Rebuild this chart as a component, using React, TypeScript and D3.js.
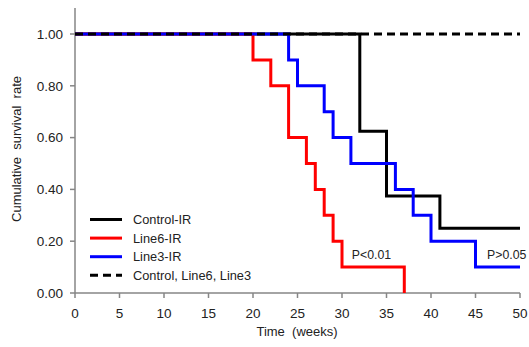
import React, { useRef, useEffect } from "react";
import * as d3 from "d3";

type Step = { t: number; s: number };

// survival steps: value holds from t until the next step
const controlIR: Step[] = [
  { t: 0, s: 1.0 }, { t: 32, s: 0.625 }, { t: 35, s: 0.375 }, { t: 41, s: 0.25 }, { t: 50, s: 0.25 },
];
const line6IR: Step[] = [
  { t: 0, s: 1.0 }, { t: 20, s: 0.9 }, { t: 22, s: 0.8 }, { t: 24, s: 0.6 }, { t: 26, s: 0.5 },
  { t: 27, s: 0.4 }, { t: 28, s: 0.3 }, { t: 29, s: 0.2 }, { t: 30, s: 0.1 }, { t: 37, s: 0.0 },
];
const line3IR: Step[] = [
  { t: 0, s: 1.0 }, { t: 24, s: 0.9 }, { t: 25, s: 0.8 }, { t: 28, s: 0.7 }, { t: 29, s: 0.6 },
  { t: 31, s: 0.5 }, { t: 36, s: 0.4 }, { t: 38, s: 0.3 }, { t: 40, s: 0.2 }, { t: 45, s: 0.1 },
  { t: 50, s: 0.1 },
];
const allNonIR: Step[] = [{ t: 0, s: 1.0 }, { t: 50, s: 1.0 }];

const xTicks = [0, 5, 10, 15, 20, 25, 30, 35, 40, 45, 50];
const yTicks = [0, 0.2, 0.4, 0.6, 0.8, 1.0];

const legendItems = [
  { label: "Control-IR", color: "#000000", dash: "" },
  { label: "Line6-IR", color: "#ff0000", dash: "" },
  { label: "Line3-IR", color: "#0000ff", dash: "" },
  { label: "Control, Line6, Line3", color: "#000000", dash: "8,5" },
];

const pLabels = [
  { text: "P<0.01", t: 31.1, s: 0.13 },
  { text: "P>0.05", t: 46.3, s: 0.13 },
];

export default function App() {
  const svgRef = useRef(null);

  useEffect(() => {
    const width = 529;
    const height = 347;
    const svg = d3.select(svgRef.current);
    svg.selectAll("*").remove();
    svg.attr("width", width).attr("height", height);

    const font = "Liberation Sans, Arial, sans-serif";
    const axisColor = "#868686";

    const x = d3.scaleLinear().domain([0, 50]).range([75, 520]);
    const y = d3.scaleLinear().domain([0, 1]).range([293, 34]);

    // axes
    svg.append("line").attr("x1", 75).attr("x2", 75).attr("y1", 8).attr("y2", 293)
      .attr("stroke", axisColor).attr("stroke-width", 1.5);
    svg.append("line").attr("x1", 75).attr("x2", 520).attr("y1", 293).attr("y2", 293)
      .attr("stroke", axisColor).attr("stroke-width", 1.5);

    svg.selectAll(".ytick").data(yTicks).join("line")
      .attr("x1", 70).attr("x2", 75)
      .attr("y1", (d) => y(d)).attr("y2", (d) => y(d))
      .attr("stroke", axisColor).attr("stroke-width", 1.5);
    svg.selectAll(".ylab").data(yTicks).join("text")
      .attr("x", 63).attr("y", (d) => y(d)).attr("dy", "0.35em")
      .attr("text-anchor", "end").attr("font-family", font).attr("font-size", 13.5)
      .attr("fill", "#222").text((d) => d.toFixed(2));

    svg.selectAll(".xtick").data(xTicks).join("line")
      .attr("x1", (d) => x(d)).attr("x2", (d) => x(d))
      .attr("y1", 293).attr("y2", 298)
      .attr("stroke", axisColor).attr("stroke-width", 1.5);
    svg.selectAll(".xlab").data(xTicks).join("text")
      .attr("x", (d) => x(d)).attr("y", 318)
      .attr("text-anchor", "middle").attr("font-family", font).attr("font-size", 13.5)
      .attr("fill", "#222").text((d) => d);

    svg.append("text")
      .attr("transform", `translate(21,149) rotate(-90)`)
      .attr("text-anchor", "middle").attr("font-family", font).attr("font-size", 13)
      .attr("fill", "#222").attr("xml:space", "preserve")
      .text("Cumulative  survival  rate");
    svg.append("text")
      .attr("x", 297).attr("y", 336)
      .attr("text-anchor", "middle").attr("font-family", font).attr("font-size", 13)
      .attr("fill", "#222").attr("xml:space", "preserve")
      .text("Time  (weeks)");

    const line = d3.line<Step>().x((d) => x(d.t)).y((d) => y(d.s)).curve(d3.curveStepAfter);

    const series = [
      { data: controlIR, color: "#000000", dash: "" },
      { data: line6IR, color: "#ff0000", dash: "" },
      { data: line3IR, color: "#0000ff", dash: "" },
      { data: allNonIR, color: "#000000", dash: "8,5" },
    ];
    series.forEach((sr) => {
      svg.append("path").attr("d", line(sr.data))
        .attr("fill", "none").attr("stroke", sr.color).attr("stroke-width", 3)
        .attr("stroke-dasharray", sr.dash || null);
    });

    // legend
    const lg = svg.selectAll(".lg").data(legendItems).join("g")
      .attr("transform", (d, i) => `translate(90,${219.5 + i * 18.6})`);
    lg.append("line").attr("x1", 0).attr("x2", 32).attr("y1", 0).attr("y2", 0)
      .attr("stroke", (d) => d.color).attr("stroke-width", 3)
      .attr("stroke-dasharray", (d) => d.dash || null);
    lg.append("text").attr("x", 43).attr("y", 0).attr("dy", "0.35em")
      .attr("font-family", font).attr("font-size", 12.8).attr("fill", "#222")
      .text((d) => d.label);

    svg.selectAll(".plab").data(pLabels).join("text")
      .attr("x", (d) => x(d.t)).attr("y", (d) => y(d.s))
      .attr("font-family", font).attr("font-size", 12.3).attr("fill", "#222")
      .text((d) => d.text);
  }, []);

  return <svg ref={svgRef} style={{ position: "absolute", left: 0, top: 0 }}></svg>;
}
